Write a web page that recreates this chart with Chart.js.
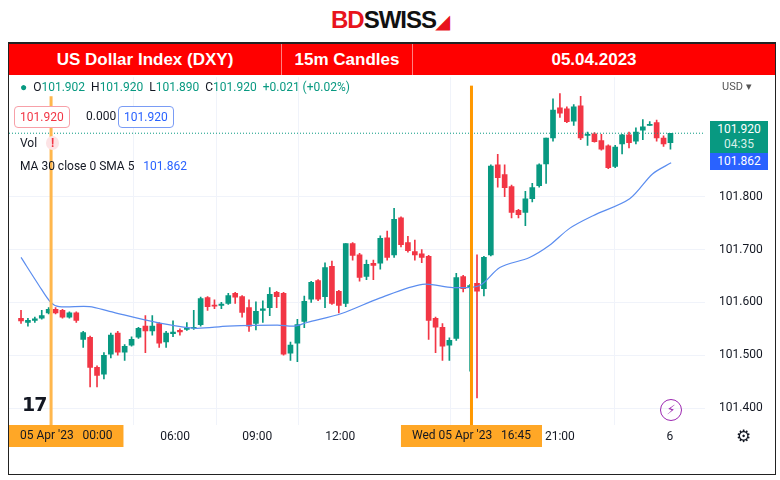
<!DOCTYPE html>
<html>
<head>
<meta charset="utf-8">
<script src="https://cdn.jsdelivr.net/npm/chart.js@4"></script>
<style>
  body { margin:0; width:780px; height:480px; background:#fff; font-family:"Liberation Sans", Arial, sans-serif; position:relative; overflow:hidden; }
  .abs { position:absolute; }
  #logo { left:0; width:780px; top:6px; text-align:center; font:bold 24px "Liberation Sans", Arial, sans-serif; letter-spacing:-1px; }
  #frame { left:8px; top:42px; width:766px; height:430px; border:1px solid #222; border-top:2px solid #222; }
  #banner { left:9px; top:44px; width:766px; height:31px; background:#ff0000; color:#fff; font:bold 17px "Liberation Sans", Arial, sans-serif; }
  #banner div { position:absolute; top:0; height:31px; line-height:31px; text-align:center; }
  .sep { width:1px; background:#ff8080; }
  #legend { left:20px; top:80px; font:12px Roboto, sans-serif; color:#131722; }
  .g { color:#089981; }
  .pbox { position:absolute; font:12px Roboto, sans-serif; height:20px; line-height:20px; padding:0 5px; border-radius:4px; background:#fff; }
  #wrap { left:9px; top:56px; width:766px; height:392px; }
</style>
</head>
<body>
<div id="logo" class="abs"><span style="color:#e8141c">BD</span><span style="color:#111">SWISS</span><span style="color:#e8141c;font-size:18px">&#9698;</span></div>
<div id="frame" class="abs"></div>
<div id="banner" class="abs">
  <div style="left:0;width:272px">US Dollar Index (DXY)</div>
  <div class="sep" style="left:272px"></div>
  <div style="left:273px;width:130px">15m Candles</div>
  <div class="sep" style="left:403px"></div>
  <div style="left:404px;width:362px">05.04.2023</div>
</div>
<div id="wrap" class="abs"><canvas id="chart" width="766" height="392"></canvas></div>
<div id="legend" class="abs">
  <div style="height:16px"><span style="color:#089981">&#9679;</span>&nbsp;&nbsp;O<span class="g">101.902</span>&nbsp; H<span class="g">101.920</span>&nbsp; L<span class="g">101.890</span>&nbsp; C<span class="g">101.920</span>&nbsp; <span class="g">+0.021 (+0.02%)</span></div>
</div>
<div class="pbox" style="left:14px;top:106px;border:1px solid #f7a0a8;color:#f23645">101.920</div>
<div class="abs" style="left:86px;top:109px;font:12px Roboto,sans-serif;color:#131722">0.000</div>
<div class="pbox" style="left:118px;top:106px;border:1px solid #7a9cf5;color:#2962ff">101.920</div>
<div class="abs" style="left:20px;top:136px;font:12px Roboto,sans-serif;color:#131722">Vol&nbsp;&nbsp;&nbsp;<span style="color:#f23645;background:#fde3e5;border-radius:50%;padding:0 5px;font-weight:bold">!</span></div>
<div class="abs" style="left:20px;top:159px;font:12px Roboto,sans-serif;color:#131722">MA 30 close 0 SMA 5&nbsp;&nbsp;&nbsp;<span style="color:#2962ff">101.862</span></div>
<div class="abs" style="left:722px;top:80px;font:11px Roboto,sans-serif;color:#555">USD &#9662;</div>
<div class="abs" style="left:710px;top:121px;width:58px;height:31px;background:#089981;color:#fff;font:12px Roboto,sans-serif;text-align:center;line-height:15px;padding-top:1px">101.920<br><span style="color:#d8f0ea">04:35</span></div>
<div class="abs" style="left:710px;top:153px;width:58px;height:17px;background:#2962ff;color:#fff;font:12px Roboto,sans-serif;text-align:center;line-height:17px">101.862</div>
<div class="abs" style="left:22px;top:393px;font:bold 19px 'DejaVu Sans',sans-serif;color:#131722;letter-spacing:-1px">17</div>
<div class="abs" style="left:660px;top:399px;width:20px;height:20px;border:1px solid #9c27b0;border-radius:50%;color:#9c27b0;text-align:center;font:13px 'DejaVu Sans';line-height:20px">&#9889;</div>
<div class="abs" style="left:736px;top:426px;font:17px 'DejaVu Sans';color:#131722">&#9881;</div>
<script>
// bougies 15m, de gauche a droite
const opens  = [101.570,101.562,101.566,101.570,101.580,101.587,101.585,101.572,101.580,101.530,101.534,101.477,101.464,101.502,101.542,101.506,101.519,101.534,101.555,101.546,101.560,101.525,101.541,101.547,101.549,101.551,101.558,101.609,101.595,101.594,101.598,101.617,101.611,101.590,101.560,101.585,101.590,101.619,101.617,101.504,101.523,101.564,101.606,101.641,101.611,101.668,101.621,101.598,101.711,101.690,101.649,101.674,101.674,101.722,101.690,101.760,101.713,101.696,101.692,101.687,101.570,101.553,101.519,101.532,101.649,101.628,101.636,101.626,101.690,101.860,101.842,101.819,101.774,101.770,101.796,101.821,101.862,101.911,101.968,101.966,101.943,101.972,101.916,101.919,101.906,101.896,101.857,101.900,101.917,101.905,101.926,101.935,101.940,101.911,101.902];
const highs  = [101.585,101.570,101.572,101.585,101.590,101.590,101.587,101.582,101.582,101.545,101.536,101.480,101.505,101.542,101.545,101.520,101.535,101.553,101.575,101.575,101.562,101.545,101.565,101.550,101.562,101.585,101.610,101.611,101.605,101.600,101.617,101.619,101.613,101.605,101.601,101.603,101.628,101.621,101.619,101.525,101.568,101.612,101.640,101.643,101.675,101.678,101.623,101.711,101.713,101.693,101.680,101.680,101.726,101.735,101.778,101.762,101.725,101.718,101.700,101.689,101.572,101.560,101.533,101.655,101.651,101.634,101.690,101.687,101.860,101.880,101.860,101.822,101.776,101.810,101.825,101.862,101.911,101.985,101.995,101.970,101.974,101.990,101.922,101.921,101.918,101.898,101.897,101.918,101.922,101.930,101.946,101.942,101.945,101.915,101.920];
const lows   = [101.560,101.555,101.562,101.568,101.578,101.578,101.570,101.570,101.562,101.515,101.440,101.440,101.455,101.495,101.500,101.490,101.517,101.532,101.505,101.538,101.515,101.515,101.535,101.538,101.547,101.549,101.555,101.585,101.588,101.588,101.596,101.598,101.572,101.545,101.548,101.562,101.575,101.590,101.500,101.490,101.488,101.552,101.600,101.603,101.590,101.596,101.580,101.592,101.680,101.640,101.643,101.643,101.663,101.680,101.685,101.705,101.695,101.680,101.675,101.530,101.505,101.490,101.490,101.528,101.620,101.470,101.419,101.612,101.688,101.818,101.800,101.760,101.760,101.745,101.790,101.818,101.825,101.905,101.950,101.940,101.935,101.908,101.897,101.903,101.888,101.853,101.855,101.881,101.892,101.900,101.908,101.935,101.905,101.895,101.890];
const closes = [101.565,101.566,101.569,101.575,101.587,101.580,101.572,101.580,101.566,101.543,101.477,101.462,101.500,101.538,101.506,101.517,101.530,101.551,101.546,101.555,101.523,101.542,101.544,101.544,101.551,101.553,101.607,101.592,101.593,101.597,101.613,101.610,101.581,101.555,101.583,101.588,101.615,101.611,101.502,101.519,101.558,101.602,101.638,101.606,101.666,101.598,101.594,101.711,101.689,101.647,101.672,101.670,101.721,101.685,101.757,101.709,101.698,101.690,101.685,101.566,101.553,101.517,101.528,101.647,101.626,101.632,101.621,101.685,101.858,101.836,101.817,101.770,101.766,101.796,101.817,101.860,101.911,101.964,101.958,101.942,101.970,101.911,101.918,101.904,101.890,101.855,101.894,101.917,101.902,101.922,101.932,101.937,101.911,101.900,101.920];

// moyenne mobile (position en bougies, valeur)
const smaAt  = [0, 2.6, 4.3, 5.5, 9.9, 12.8, 19.6, 25.1, 29.9, 37.1, 39.6, 41.4, 46.4, 51.9, 58.1, 62.5, 66.4, 69.3, 73.6, 76.5, 79.4, 82.8, 88.1, 91.4, 94.1];
const smaVal = [101.685,101.632,101.600,101.592,101.592,101.583,101.562,101.551,101.555,101.557,101.555,101.562,101.579,101.608,101.634,101.628,101.632,101.666,101.685,101.708,101.740,101.764,101.796,101.843,101.864];

// graduations
const xTickAt    = [22.3, 34.2, 46.2, 78, 93.9];
const xTickLabel = ['06:00', '09:00', '12:00', '21:00', '6'];
const yTicks     = [101.4, 101.5, 101.6, 101.7, 101.8];

// repères orange
const markers = [{at: 4.35, label: "05 Apr '23   00:00", color: '#ffb74d', top: 101.99}, {at: 65.2, label: "Wed 05 Apr '23   16:45", color: '#ff9800', top: 102.01}];

const UP = '#089981', DOWN = '#f23645';
const cols = opens.map((o, i) => closes[i] >= o ? UP : DOWN);

const overlay = {
    id: 'overlay',
    afterDatasetsDraw(chart) {
        const {ctx, chartArea: a, scales: {x, y}} = chart;
        ctx.save();
        // ligne pointillée du dernier prix
        const py = y.getPixelForValue(closes[closes.length - 1]);
        ctx.strokeStyle = UP; ctx.lineWidth = 1; ctx.setLineDash([1, 2]);
        ctx.beginPath(); ctx.moveTo(a.left, py); ctx.lineTo(a.right, py); ctx.stroke();
        ctx.setLineDash([]);
        markers.forEach(m => {
            const px = x.getPixelForValue(m.at);
            const top = y.getPixelForValue(m.top);
            ctx.fillStyle = m.color;
            ctx.fillRect(px - 1.5, top, 3, a.bottom - top);
            ctx.font = '12px Roboto, sans-serif';
            const w = ctx.measureText(m.label).width + 22;
            let left = Math.max(px - w / 2, a.left);
            ctx.fillStyle = '#ffa726';
            ctx.fillRect(left, a.bottom, w, 22);
            ctx.fillStyle = '#131722'; ctx.textAlign = 'left'; ctx.textBaseline = 'middle';
            ctx.fillText(m.label, left + 11, a.bottom + 11);
        });
        ctx.restore();
    }
};

new Chart(document.getElementById('chart'), {
    type: 'bar',
    data: {
        datasets: [{
            type: 'line',
            data: smaAt.map((v, i) => ({x: v, y: smaVal[i]})),
            borderColor: '#5b8def', borderWidth: 1.2, pointRadius: 0, tension: 0.3, order: 0
        }, {
            data: opens.map((o, i) => ({x: i, y: [o, closes[i]]})),
            backgroundColor: cols, barThickness: 5, minBarLength: 1, grouped: false, order: 1
        }, {
            data: lows.map((l, i) => ({x: i, y: [l, highs[i]]})),
            backgroundColor: cols, barThickness: 1, grouped: false, order: 2
        }]
    },
    options: {
        responsive: false, animation: false,
        layout: {padding: 0},
        plugins: {legend: {display: false}, tooltip: {enabled: false}},
        scales: {
            x: {
                type: 'linear', min: -1.74, max: 99, offset: false,
                afterBuildTicks: s => { s.ticks = xTickAt.map(v => ({value: v})); },
                afterFit: s => { s.height = 23; },
                grid: {color: '#f0f3fa', drawTicks: false},
                border: {display: false},
                ticks: {
                    padding: 5, color: '#131722', font: {size: 12, family: 'Roboto'}, maxRotation: 0,
                    callback: v => xTickLabel[xTickAt.indexOf(v)]
                }
            },
            y: {
                position: 'right', min: 101.368, max: 102.026,
                afterBuildTicks: s => { s.ticks = yTicks.map(v => ({value: v})); },
                afterFit: s => { s.width = 70; },
                grid: {color: '#f0f3fa', drawTicks: false},
                border: {display: false},
                ticks: {padding: 14, color: '#131722', font: {size: 12, family: 'Roboto'}, callback: v => v.toFixed(3)}
            }
        }
    },
    plugins: [overlay]
});
</script>
</body>
</html>
